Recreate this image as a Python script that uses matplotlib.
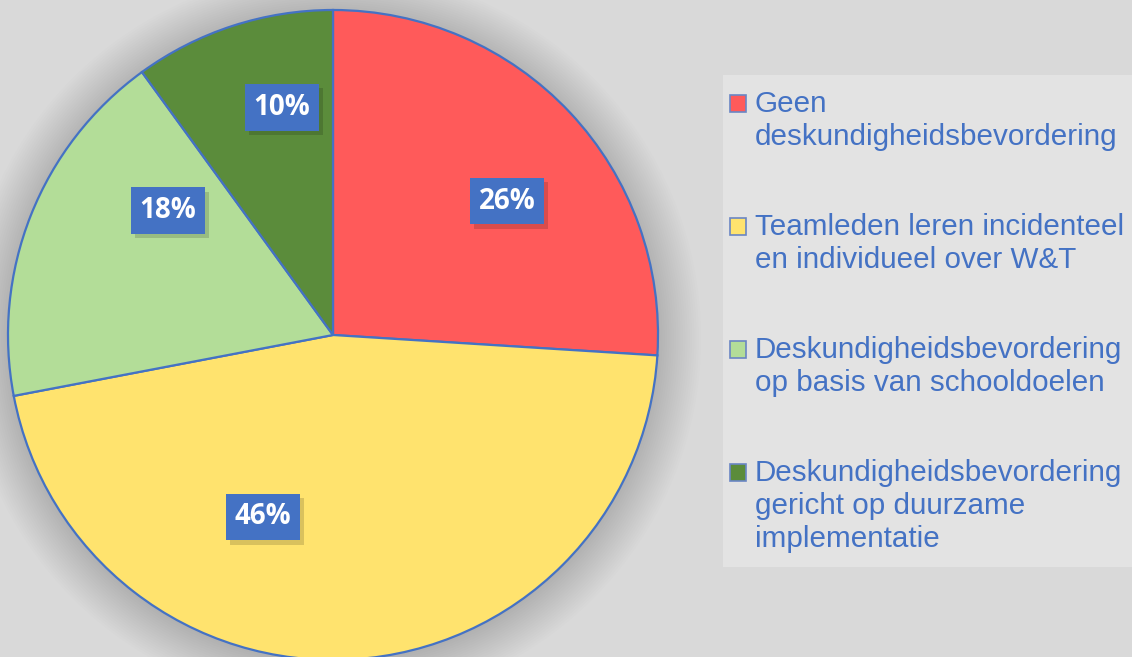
import numpy as np
import matplotlib.pyplot as plt
import matplotlib.patheffects as pe
from matplotlib.patches import Rectangle, Circle

# data
labels = [
    "Geen\ndeskundigheidsbevordering",
    "Teamleden leren incidenteel\nen individueel over W&T",
    "Deskundigheidsbevordering\nop basis van schooldoelen",
    "Deskundigheidsbevordering\ngericht op duurzame\nimplementatie",
]
shares = [26, 46, 18, 10]
colors = ["#ff5a5a", "#ffe36e", "#b3dd98", "#5b8c3b"]

# where the data labels sit (data coords of the pie, radius 1)
label_xy = [(0.535, 0.412), (-0.215, -0.56), (-0.508, 0.382), (-0.157, 0.70)]

W, H = 1132, 657
blue = "#4472c4"

fig = plt.figure(figsize=(W / 100, H / 100), dpi=100)
fig.patch.set_facecolor("#d9d9d9")

# pie: centre (333, 335) px, radius 325 px
cx, cy, r = 333, 335, 325
ax = fig.add_axes([(cx - r) / W, (H - cy - r) / H, 2 * r / W, 2 * r / H])
ax.axis("off")

# soft shadow round the pie
for k in range(20):
    ax.add_patch(Circle((0, -0.01), 1.0 + 0.007 * k, color="black",
                        alpha=0.008, lw=0, zorder=0, clip_on=False))

wedges, _ = ax.pie(shares, colors=colors, startangle=90, counterclock=False,
                   radius=1.0,
                   wedgeprops=dict(edgecolor=blue, linewidth=1.6))
for w in wedges:
    w.set_zorder(2)
ax.set_xlim(-1, 1)
ax.set_ylim(-1, 1)
ax.set_aspect("equal")

for (x, y), s in zip(label_xy, shares):
    t = ax.text(x, y, f"{s}%", ha="center", va="center", color="white",
                fontsize=20, fontweight="bold", family="Open Sans", zorder=5,
                bbox=dict(boxstyle="square,pad=0.32", facecolor=blue,
                          edgecolor="none"))
    t.get_bbox_patch().set_path_effects(
        [pe.SimplePatchShadow(offset=(3, -3), shadow_rgbFace="black", alpha=0.15),
         pe.Normal()])

# legend panel
fig.patches.append(Rectangle((723 / W, 1 - 567 / H), (W - 723) / W,
                             (567 - 75) / H, transform=fig.transFigure,
                             facecolor="#e3e3e3", edgecolor="none", zorder=0))

first_base = 112
entry_step = 123
line_step = 33
for i, (lab, col) in enumerate(zip(labels, colors)):
    base = first_base + entry_step * i
    fig.patches.append(Rectangle((730 / W, 1 - base / H), 16 / W, 17 / H,
                                 transform=fig.transFigure, facecolor=col,
                                 edgecolor="#6a86c4", linewidth=1.2, zorder=3))
    for j, line in enumerate(lab.split("\n")):
        fig.text(755 / W, 1 - (base + line_step * j) / H, line,
                 ha="left", va="baseline", fontsize=21.3, color=blue,
                 family="Liberation Sans")

fig.savefig("out.png", dpi=100, facecolor=fig.get_facecolor())
